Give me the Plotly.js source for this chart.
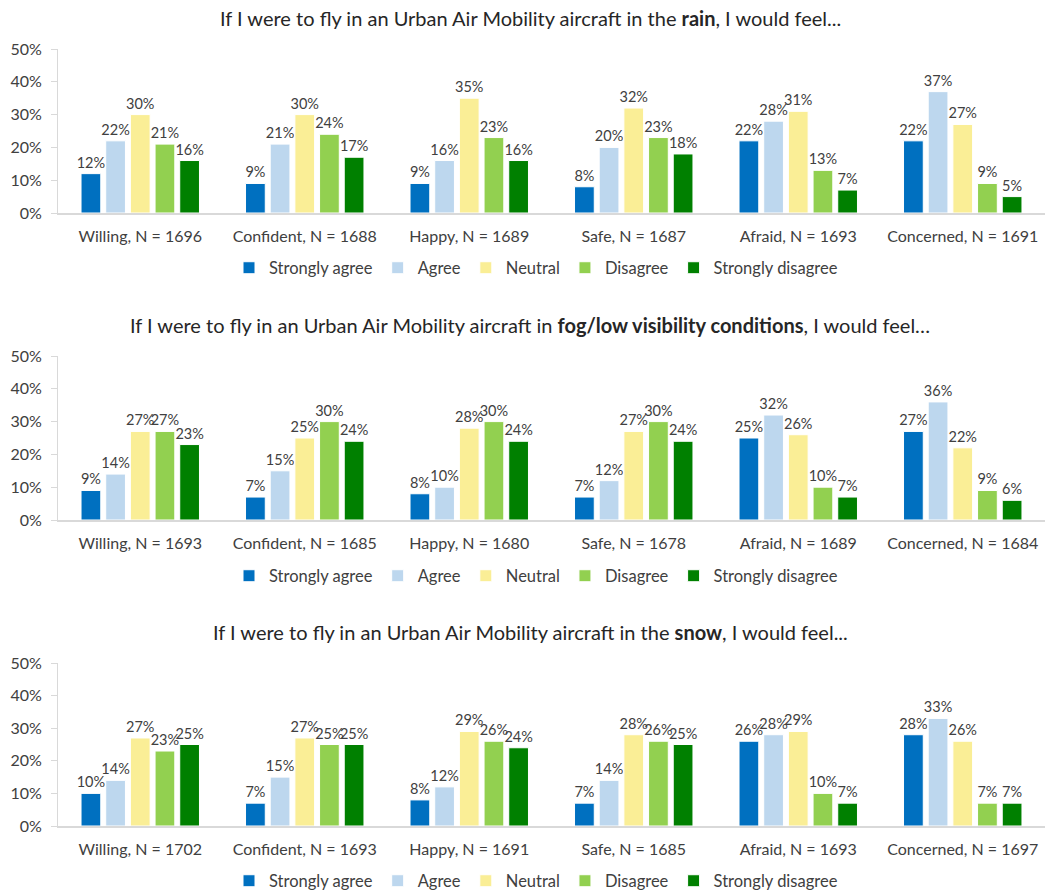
<!DOCTYPE html>
<html>
<head>
<meta charset="utf-8">
<script src="https://cdn.plot.ly/plotly-3.0.1.min.js"></script>
<style>html,body{margin:0;padding:0;background:#fff;}#chart{width:1049px;height:892px;}</style>
</head>
<body>
<div id="chart"></div>
<script>
const feelings = ["Willing", "Confident", "Happy", "Safe", "Afraid", "Concerned"];
const responses = ["Strongly agree", "Agree", "Neutral", "Disagree", "Strongly disagree"];
const colors = ["#0070C0", "#BDD7EE", "#FAEE96", "#92D050", "#008000"];

// Panel 1: rain
const rainN = [1696, 1688, 1689, 1687, 1693, 1691];
const rainStronglyAgree = [12, 9, 9, 8, 22, 22];
const rainAgree = [22, 21, 16, 20, 28, 37];
const rainNeutral = [30, 30, 35, 32, 31, 27];
const rainDisagree = [21, 24, 23, 23, 13, 9];
const rainStronglyDisagree = [16, 17, 16, 18, 7, 5];

// Panel 2: fog / low visibility
const fogN = [1693, 1685, 1680, 1678, 1689, 1684];
const fogStronglyAgree = [9, 7, 8, 7, 25, 27];
const fogAgree = [14, 15, 10, 12, 32, 36];
const fogNeutral = [27, 25, 28, 27, 26, 22];
const fogDisagree = [27, 30, 30, 30, 10, 9];
const fogStronglyDisagree = [23, 24, 24, 24, 7, 6];

// Panel 3: snow
const snowN = [1702, 1693, 1691, 1685, 1693, 1697];
const snowStronglyAgree = [10, 7, 8, 7, 26, 28];
const snowAgree = [14, 15, 12, 14, 28, 33];
const snowNeutral = [27, 27, 29, 28, 29, 26];
const snowDisagree = [23, 25, 26, 26, 10, 7];
const snowStronglyDisagree = [25, 25, 24, 25, 7, 7];

const panelTitles = [
  "If I were to fly in an Urban Air Mobility aircraft in the <b>rain</b>, I would feel...",
  "If I were to fly in an Urban Air Mobility aircraft in <b>fog/low visibility conditions</b>, I would feel…",
  "If I were to fly in an Urban Air Mobility aircraft in the <b>snow</b>, I would feel..."
];

const panels = [
  {n: rainN, series: [rainStronglyAgree, rainAgree, rainNeutral, rainDisagree, rainStronglyDisagree]},
  {n: fogN, series: [fogStronglyAgree, fogAgree, fogNeutral, fogDisagree, fogStronglyDisagree]},
  {n: snowN, series: [snowStronglyAgree, snowAgree, snowNeutral, snowDisagree, snowStronglyDisagree]}
];

const FONT = "Lato, 'Open Sans', sans-serif";
const H = 892;
const geom = [
  {top: 49, bot: 213, title: 18, leg: 268},
  {top: 356, bot: 520, title: 325, leg: 576},
  {top: 663, bot: 826, title: 632, leg: 881}
];
const py = v => 1 - v / H;

const traces = [];
const layout = {
  width: 1049, height: 892,
  margin: {l: 0, r: 0, t: 0, b: 0, autoexpand: false},
  paper_bgcolor: "#fff", plot_bgcolor: "#fff",
  font: {family: FONT, color: "#404040", size: 15},
  barmode: "group", bargap: 0.25, bargroupgap: 0.2,
  showlegend: true,
  annotations: []
};

panels.forEach((p, i) => {
  const sfx = i === 0 ? "" : String(i + 1);
  const cats = feelings.map((f, k) => f + ", N = " + p.n[k]);
  const legName = "legend" + sfx;
  p.series.forEach((vals, j) => {
    traces.push({
      type: "bar", x: cats, y: vals, name: responses[j],
      xaxis: "x" + sfx, yaxis: "y" + sfx, legend: legName,
      marker: {color: colors[j], line: {color: "#fff", width: 1}},
      text: vals.map(v => v + "%"), textposition: "outside",
      constraintext: "none", cliponaxis: false,
      textfont: {size: 14.5, color: "#404040", family: FONT},
      hoverinfo: "x+y+name"
    });
  });
  const g = geom[i];
  layout["xaxis" + sfx] = {
    domain: [58 / 1049, 1045 / 1049], anchor: "y" + sfx,
    showline: true, linecolor: "#D9D9D9", linewidth: 2,
    ticks: "", showgrid: false, zeroline: false, automargin: false,
    tickfont: {size: 16, color: "#404040", family: FONT},
    ticklabelstandoff: 8
  };
  layout["yaxis" + sfx] = {
    domain: [py(g.bot), py(g.top)], anchor: "x" + sfx,
    range: [0, 50], dtick: 10, ticksuffix: "%",
    showline: true, linecolor: "#D9D9D9", linewidth: 1,
    ticks: "outside", ticklen: 6, tickcolor: "#D9D9D9",
    showgrid: false, zeroline: false, automargin: false,
    tickfont: {size: 16, color: "#404040", family: FONT},
    ticklabelstandoff: 6
  };
  layout[legName] = {
    orientation: "h", x: 536 / 1049, xanchor: "center",
    y: py(g.leg), yanchor: "middle",
    font: {size: 16.5, color: "#404040", family: FONT},
    itemwidth: 30, tracegroupgap: 0, bgcolor: "rgba(0,0,0,0)"
  };
  layout.annotations.push({
    text: panelTitles[i], xref: "paper", yref: "paper",
    x: 530 / 1049, y: py(g.title), xanchor: "center", yanchor: "middle",
    showarrow: false, font: {size: 20, color: "#262626", family: FONT}
  });
});

Plotly.newPlot("chart", traces, layout, {displayModeBar: false, responsive: false});
</script>
</body>
</html>
